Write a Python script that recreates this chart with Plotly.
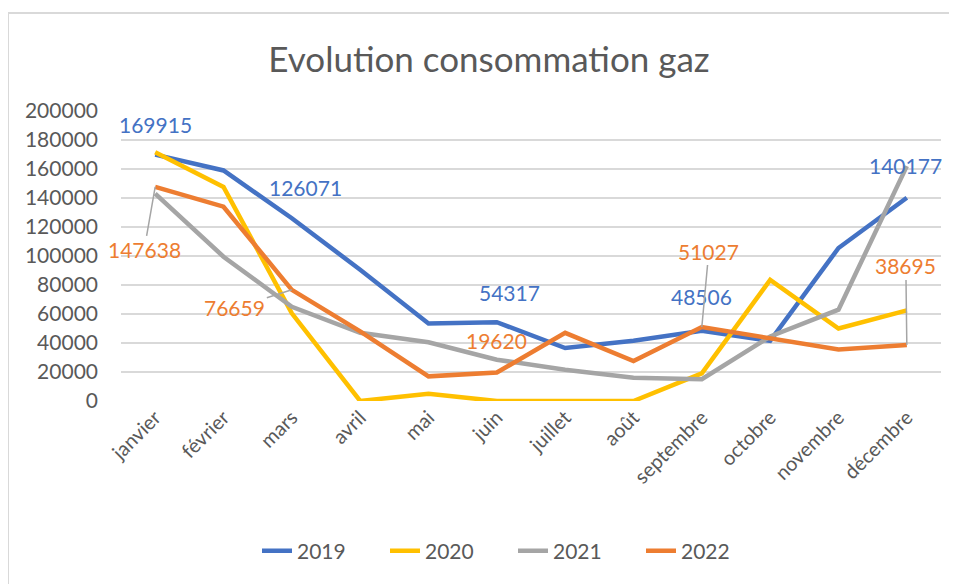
import plotly.graph_objects as go

months = ["janvier", "février", "mars", "avril", "mai", "juin", "juillet",
          "août", "septembre", "octobre", "novembre", "décembre"]
s2019 = [169915, 159000, 126071, 90500, 53500, 54317, 36500, 41500, 48506, 41500, 105500, 140177]
s2020 = [171500, 147600, 60500, 0, 5000, 0, 0, 0, 19000, 83500, 50000, 62500]
s2021 = [143000, 99500, 65000, 47000, 40500, 28500, 21500, 16000, 15000, 44500, 63000, 162000]
s2022 = [147638, 134000, 76659, 48000, 17000, 19620, 47000, 27500, 51027, 43000, 35500, 38695]
years = ["2019", "2020", "2021", "2022"]
colors = ["#4472C4", "#FFC000", "#A5A5A5", "#ED7D31"]
series = [s2019, s2020, s2021, s2022]

FONT = "Lato, Carlito, Calibri, sans-serif"
TXT = "#595959"
FS = 21

# page body has an 8px margin: figure drawn from (8, 8)
W, H = 949, 576
L, T, R, B = 113, 103, 16, 183
PW, PH = W - L - R, H - T - B

fig = go.Figure()
for name, vals, col in zip(years, series, colors):
    fig.add_trace(go.Scatter(x=months, y=vals, name=name, mode="lines",
                             line=dict(color=col, width=4.5)))

# plain labels: (series index, month index, xshift, yshift)
plain = [
    (0, 0, 0, 30),
    (0, 2, 14, 31),
    (0, 5, 13, 30),
    (0, 8, 0, 34),
    (0, 11, -1, 32),
    (3, 5, 0, 32),
]
# labels with leader lines: (series index, month index, ax, ay)
leader = [
    (3, 0, -11, 63),
    (3, 2, -57, 18),
    (3, 8, 7, -76),
    (3, 11, -1, -79),
]
lab_colors = {0: "#4472C4", 3: "#ED7D31"}
for si, mi, xs, ys in plain:
    v = series[si][mi]
    fig.add_annotation(x=months[mi], y=v, text=str(v), showarrow=False,
                       xshift=xs, yshift=ys,
                       font=dict(family=FONT, size=FS, color=lab_colors[si]))
for si, mi, ax, ay in leader:
    v = series[si][mi]
    fig.add_annotation(x=months[mi], y=v, text=str(v), showarrow=True,
                       ax=ax, ay=ay, arrowhead=0, arrowwidth=1.5,
                       arrowcolor="#A5A5A5", standoff=0,
                       font=dict(family=FONT, size=FS, color=lab_colors[si]))

# outer chart border (left/top visible)
fig.add_shape(type="rect", xref="paper", yref="paper",
              x0=(0 - L) / PW, x1=(W + 10 - L) / PW,
              y0=-(B + 10) / PH, y1=(PH + T - 5) / PH,
              line=dict(color="#D9D9D9", width=2), layer="below")

fig.update_layout(
    width=W, height=H,
    margin=dict(l=L, r=R, t=T, b=B),
    paper_bgcolor="white", plot_bgcolor="white",
    title=dict(text="Evolution consommation gaz", x=(481 - L) / PW, xref="paper",
               xanchor="center", y=(H - 52) / H, yanchor="middle",
               font=dict(family=FONT, size=35, color=TXT)),
    font=dict(family=FONT, color=TXT),
    showlegend=True,
    legend=dict(orientation="h", x=(505 - L) / PW, xanchor="center",
                y=-(543 - (T + PH)) / PH, yanchor="middle",
                font=dict(family=FONT, size=FS, color=TXT),
                entrywidth=83, entrywidthmode="pixels", tracegroupgap=0),
    xaxis=dict(type="category", range=[-0.5, 11.5], showgrid=False,
               showline=False, ticks="", tickangle=-45,
               tickfont=dict(family=FONT, size=20, color=TXT)),
    yaxis=dict(range=[0, 200000], dtick=20000, showgrid=True,
               gridcolor="#D9D9D9", gridwidth=2, zeroline=False,
               showline=False, ticks="", tickformat="d", ticklabelstandoff=22,
               tickfont=dict(family=FONT, size=FS, color=TXT)),
)

fig.write_html("out.html")
